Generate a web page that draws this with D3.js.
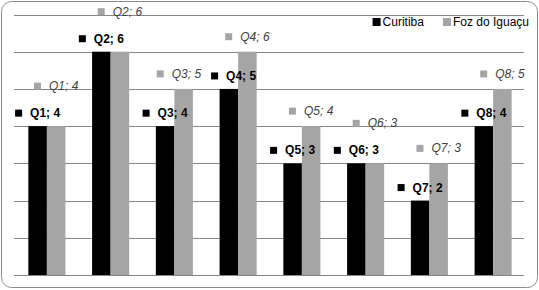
<!DOCTYPE html>
<html lang="pt">
<head>
<meta charset="UTF-8"/>
<title>Curitiba x Foz do Iguaçu</title>
<script src="https://d3js.org/d3.v7.min.js"></script>
<style>
	body { margin: 0; background: #fff; }
	svg { display: block; font-family: "Liberation Sans", Arial, sans-serif; }
</style>
</head>
<body>
<script>
	var w = 539;
	var h = 290;

	// data
	var categories = ["Q1", "Q2", "Q3", "Q4", "Q5", "Q6", "Q7", "Q8"];
	var series = ["Curitiba", "Foz do Iguaçu"];
	var curitiba = [4, 6, 4, 5, 3, 3, 2, 4];
	var fozDoIguacu = [4, 6, 5, 6, 4, 3, 3, 5];
	var gridValues = [0, 1, 2, 3, 4, 5, 6, 7];

	var colors = { "Curitiba": "#000000", "Foz do Iguaçu": "#a5a5a5" };

	var svg = d3.select("body")
				.append("svg")
				.attr("width", w)
				.attr("height", h);

	// outer rounded frame
	svg.append("rect")
		.attr("x", 1.5).attr("y", 1.5)
		.attr("width", w - 3).attr("height", h - 4)
		.attr("rx", 10).attr("ry", 10)
		.attr("fill", "#fff")
		.attr("stroke", "#8c8c8c")
		.attr("stroke-width", 1);

	//scales
	var xScale = d3.scaleBand()
					.domain(categories)
					.range([15, 525])
					.paddingInner(0);

	var xSub = d3.scaleBand()
					.domain(series)
					.range([0, xScale.bandwidth()])
					.paddingOuter(0.72);

	var yScale = d3.scaleLinear()
					.domain([0, 7])
					.range([275, 14.5]);

	// gridlines
	svg.selectAll("line.grid")
		.data(gridValues)
		.enter()
		.append("line")
		.attr("class", "grid")
		.attr("x1", 14)
		.attr("x2", 524)
		.attr("y1", function(d){ return Math.round(yScale(d)) + 0.5; })
		.attr("y2", function(d){ return Math.round(yScale(d)) + 0.5; })
		.attr("stroke", "#868686")
		.attr("stroke-width", 1);

	var rows = categories.map(function(c, i){
		return { cat: c, values: [
			{ s: "Curitiba", v: curitiba[i], other: fozDoIguacu[i] },
			{ s: "Foz do Iguaçu", v: fozDoIguacu[i], other: curitiba[i] }
		]};
	});

	var groups = svg.selectAll("g.cat")
		.data(rows)
		.enter()
		.append("g")
		.attr("class", "cat")
		.attr("transform", function(d){ return "translate(" + xScale(d.cat) + ",0)"; });

	groups.selectAll("rect")
		.data(function(d){ return d.values; })
		.enter()
		.append("rect")
		.attr("x", function(d){ return xSub(d.s); })
		.attr("y", function(d){ return yScale(d.v); })
		.attr("width", xSub.bandwidth())
		.attr("height", function(d){ return yScale(0) - yScale(d.v); })
		.attr("fill", function(d){ return colors[d.s]; });

	// data labels: marker square + "Qn; v"
	var labels = [];
	rows.forEach(function(row){
		row.values.forEach(function(d){
			var isFoz = d.s === "Foz do Iguaçu";
			var cx = xScale(row.cat) + xSub(d.s) + xSub.bandwidth() / 2;
			var cy;
			if (isFoz) {
				// pushed up when it would collide with the Curitiba label
				cy = yScale(d.v) - (d.v === d.other ? 40 : 15);
			} else {
				cy = yScale(d.v) - 13;
			}
			var g = svg.append("g");
			var sq = g.append("rect")
				.attr("width", 7).attr("height", 7)
				.attr("fill", colors[d.s]);
			var t = g.append("text")
				.text(row.cat + "; " + d.v)
				.attr("font-size", "12px")
				.attr("font-weight", isFoz ? "normal" : "bold")
				.attr("font-style", isFoz ? "italic" : "normal")
				.attr("fill", isFoz ? "#404040" : "#000")
				.attr("dominant-baseline", "central")
				.attr("y", cy);
			var tw = t.node().getComputedTextLength();
			var total = 7 + 8 + tw;
			var x0 = cx - total / 2;
			sq.attr("x", 0).attr("y", cy - 3.5);
			t.attr("x", 15);
			labels.push({ g: g, x0: x0, w: total, cy: cy });
		});
	});

	// push apart labels that sit on the same line and overlap
	labels.sort(function(a, b){ return a.x0 - b.x0; });
	for (var i = 0; i < labels.length; i++) {
		for (var j = i + 1; j < labels.length; j++) {
			var a = labels[i], b = labels[j];
			if (Math.abs(a.cy - b.cy) > 12) continue;
			var over = a.x0 + a.w + 10 - b.x0;
			if (over > 0) {
				a.x0 -= over / 2;
				b.x0 += over / 2;
			}
		}
	}
	labels.forEach(function(l){
		l.g.attr("transform", "translate(" + l.x0 + ",0)");
	});

	// legend, right aligned
	var legend = svg.append("g");
	var lx = 529;
	series.slice().reverse().forEach(function(s){
		var t = legend.append("text")
			.text(s)
			.attr("font-size", "12px")
			.attr("fill", "#000")
			.attr("dominant-baseline", "central")
			.attr("y", 22);
		var tw = t.node().getComputedTextLength();
		t.attr("x", lx - tw);
		legend.append("rect")
			.attr("x", lx - tw - 10)
			.attr("y", 18)
			.attr("width", 8).attr("height", 8)
			.attr("fill", colors[s]);
		lx = lx - tw - 10 - 19;
	});
</script>
</body>
</html>
